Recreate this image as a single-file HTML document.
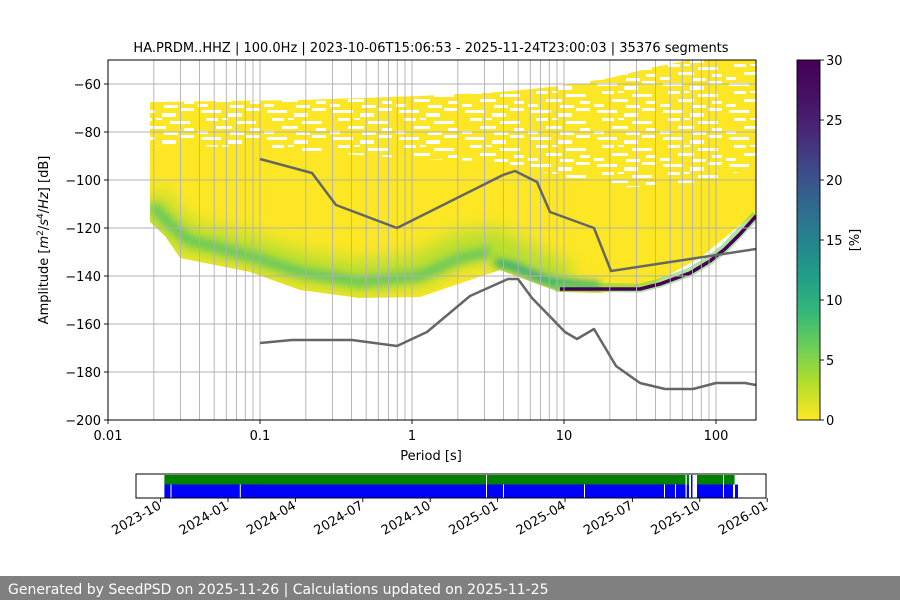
<!DOCTYPE html>
<html><head><meta charset="utf-8"><style>
html,body{margin:0;padding:0;background:#fff;}
body{width:900px;height:600px;overflow:hidden;position:relative;font-family:"Liberation Sans","DejaVu Sans",sans-serif;}
svg text{font-family:"DejaVu Sans","Liberation Sans",sans-serif;}
</style></head><body>
<svg width="900" height="600" viewBox="0 0 900 600" xmlns="http://www.w3.org/2000/svg">
<defs>
<clipPath id="ax"><rect x="108" y="60" width="648" height="360"/></clipPath>
<clipPath id="bodyclip"><path d="M150,145 L260,148 L400,158 L500,162 L560,176 L620,188 L700,182 L740,172 L756,168 L756,215 L740,225 L700,258 L650,285 L600,293 L560,292 L540,285 L500,270 L470,280 L420,297 L360,298 L300,290 L250,272 L180,258 L165,236 L150,222 Z"/></clipPath>
<pattern id="spk" x="0" y="0" width="66" height="27" patternUnits="userSpaceOnUse">
<rect width="66" height="27" fill="#fde725"/>
<rect x="3" y="2" width="20" height="3" fill="#fff"/>
<rect x="30" y="5" width="14" height="4" fill="#fff"/>
<rect x="48" y="0" width="14" height="3" fill="#fff"/>
<rect x="8" y="10" width="12" height="3" fill="#fff"/>
<rect x="38" y="13" width="20" height="3" fill="#fff"/>
<rect x="18" y="18" width="16" height="3" fill="#fff"/>
<rect x="52" y="20" width="10" height="3" fill="#fff"/>
<rect x="0" y="23" width="10" height="3" fill="#fff"/>
<rect x="32" y="24" width="14" height="3" fill="#fff"/>
<rect x="24" y="10" width="6" height="2" fill="#fff"/>
</pattern>
<linearGradient id="cb" x1="0" y1="1" x2="0" y2="0">
<stop offset="0" stop-color="#fde725"/><stop offset="0.1" stop-color="#b5de2b"/><stop offset="0.2" stop-color="#6ece58"/><stop offset="0.3" stop-color="#35b779"/><stop offset="0.4" stop-color="#1f9e89"/><stop offset="0.5" stop-color="#26828e"/><stop offset="0.6" stop-color="#31688e"/><stop offset="0.7" stop-color="#3e4989"/><stop offset="0.8" stop-color="#482878"/><stop offset="0.9" stop-color="#471063"/><stop offset="1" stop-color="#440154"/>
</linearGradient>
<filter id="bl" x="-20%" y="-100%" width="140%" height="300%"><feGaussianBlur stdDeviation="9"/></filter>
<filter id="bl2" x="-10%" y="-50%" width="120%" height="200%"><feGaussianBlur stdDeviation="4"/></filter>
</defs>

<g clip-path="url(#ax)">
<path d="M150,102 L300,100 L420,96 L500,92 L560,86 L610,78 L650,68 L690,60 L756,60 L756,190 L150,190 Z" fill="url(#spk)"/>
<path d="M150,145 L260,148 L400,158 L500,162 L560,176 L620,188 L700,182 L740,172 L756,168 L756,215 L740,225 L700,258 L650,285 L600,293 L560,292 L540,285 L500,270 L470,280 L420,297 L360,298 L300,290 L250,272 L180,258 L165,236 L150,222 Z" fill="#fde725"/>
<g clip-path="url(#bodyclip)">
<polyline points="150,200 165,220 185,238 250,252 300,268 360,278 420,270 460,250 490,245 520,258 545,272 570,280" fill="none" stroke="#a5db36" stroke-width="34" filter="url(#bl)" opacity="0.8"/>
<polyline points="152,205 168,222 188,240 250,256 300,272 360,282 420,276 460,258 490,252" fill="none" stroke="#4ac16d" stroke-width="10" filter="url(#bl2)" opacity="0.75"/>
<polyline points="495,262 515,267 535,276 555,283 600,286" fill="none" stroke="#22a884" stroke-width="8" filter="url(#bl2)"/>
</g>
<polyline points="555,287 640,288 660,283 690,272 710,260 725,248 740,232 756,215" fill="none" stroke="#6ece58" stroke-width="9" opacity="0.55"/>
<polyline points="560,289 640,289 660,284 690,273 710,261 725,249 740,234 756,216" fill="none" stroke="#440154" stroke-width="3.5"/>
</g>

<g stroke="#b0b0b0" stroke-width="0.9">
<line x1="153.8" y1="60" x2="153.8" y2="420"/><line x1="180.5" y1="60" x2="180.5" y2="420"/><line x1="199.5" y1="60" x2="199.5" y2="420"/><line x1="214.2" y1="60" x2="214.2" y2="420"/><line x1="226.3" y1="60" x2="226.3" y2="420"/><line x1="236.5" y1="60" x2="236.5" y2="420"/><line x1="245.3" y1="60" x2="245.3" y2="420"/><line x1="253" y1="60" x2="253" y2="420"/><line x1="260" y1="60" x2="260" y2="420"/>
<line x1="305.8" y1="60" x2="305.8" y2="420"/><line x1="332.5" y1="60" x2="332.5" y2="420"/><line x1="351.5" y1="60" x2="351.5" y2="420"/><line x1="366.2" y1="60" x2="366.2" y2="420"/><line x1="378.3" y1="60" x2="378.3" y2="420"/><line x1="388.5" y1="60" x2="388.5" y2="420"/><line x1="397.3" y1="60" x2="397.3" y2="420"/><line x1="405" y1="60" x2="405" y2="420"/><line x1="412" y1="60" x2="412" y2="420"/>
<line x1="457.8" y1="60" x2="457.8" y2="420"/><line x1="484.5" y1="60" x2="484.5" y2="420"/><line x1="503.5" y1="60" x2="503.5" y2="420"/><line x1="518.2" y1="60" x2="518.2" y2="420"/><line x1="530.3" y1="60" x2="530.3" y2="420"/><line x1="540.5" y1="60" x2="540.5" y2="420"/><line x1="549.3" y1="60" x2="549.3" y2="420"/><line x1="557" y1="60" x2="557" y2="420"/><line x1="564" y1="60" x2="564" y2="420"/>
<line x1="609.8" y1="60" x2="609.8" y2="420"/><line x1="636.5" y1="60" x2="636.5" y2="420"/><line x1="655.5" y1="60" x2="655.5" y2="420"/><line x1="670.2" y1="60" x2="670.2" y2="420"/><line x1="682.3" y1="60" x2="682.3" y2="420"/><line x1="692.5" y1="60" x2="692.5" y2="420"/><line x1="701.3" y1="60" x2="701.3" y2="420"/><line x1="709" y1="60" x2="709" y2="420"/><line x1="716" y1="60" x2="716" y2="420"/>
<line x1="108" y1="84" x2="756" y2="84"/><line x1="108" y1="132" x2="756" y2="132"/><line x1="108" y1="180" x2="756" y2="180"/><line x1="108" y1="228" x2="756" y2="228"/><line x1="108" y1="276" x2="756" y2="276"/><line x1="108" y1="324" x2="756" y2="324"/><line x1="108" y1="372" x2="756" y2="372"/>
</g>

<g clip-path="url(#ax)" fill="none" stroke="#666" stroke-width="2.5" stroke-linejoin="round">
<polyline points="260,159 312,173 336,205 397,228 503,175 515,171 537,182 550,212 594,228 611,271 756,249"/>
<polyline points="260,343 292,340 352,340 397,346 427,332 470,296 508,279 518,279 532,298 565,332 577,339 594,329 616,366 640,383 665,389 693,389 716,383 745,383 756,385"/>
</g>

<rect x="108" y="60" width="648" height="360" fill="none" stroke="#000" stroke-width="1"/>
<g stroke="#000" stroke-width="0.9">
<line x1="104" y1="84" x2="108" y2="84"/><line x1="104" y1="132" x2="108" y2="132"/><line x1="104" y1="180" x2="108" y2="180"/><line x1="104" y1="228" x2="108" y2="228"/><line x1="104" y1="276" x2="108" y2="276"/><line x1="104" y1="324" x2="108" y2="324"/><line x1="104" y1="372" x2="108" y2="372"/><line x1="104" y1="420" x2="108" y2="420"/>
<line x1="108" y1="420" x2="108" y2="424"/><line x1="260" y1="420" x2="260" y2="424"/><line x1="412" y1="420" x2="412" y2="424"/><line x1="564" y1="420" x2="564" y2="424"/><line x1="716" y1="420" x2="716" y2="424"/>
</g>
<g font-size="13" fill="#000" text-anchor="end">
<text x="101" y="89">−60</text><text x="101" y="137">−80</text><text x="101" y="185">−100</text><text x="101" y="233">−120</text><text x="101" y="281">−140</text><text x="101" y="329">−160</text><text x="101" y="377">−180</text><text x="101" y="425">−200</text>
</g>
<g font-size="13" fill="#000" text-anchor="middle">
<text x="108" y="440">0.01</text><text x="260" y="440">0.1</text><text x="412" y="440">1</text><text x="564" y="440">10</text><text x="716" y="440">100</text>
<text x="431" y="460">Period [s]</text>
<text x="431" y="52">HA.PRDM..HHZ | 100.0Hz | 2023-10-06T15:06:53 - 2025-11-24T23:00:03 | 35376 segments</text>
</g>
<text transform="translate(48,240) rotate(-90)" font-size="13" text-anchor="middle">Amplitude [<tspan font-style="italic">m</tspan><tspan font-size="9" dy="-5">2</tspan><tspan dy="5">/</tspan><tspan font-style="italic">s</tspan><tspan font-size="9" dy="-5">4</tspan><tspan dy="5">/</tspan><tspan font-style="italic">Hz</tspan>] [dB]</text>

<rect x="797" y="60" width="23" height="360" fill="url(#cb)"/>
<rect x="797" y="60" width="23" height="360" fill="none" stroke="#000" stroke-width="0.9"/>
<g stroke="#000" stroke-width="0.9">
<line x1="820" y1="60" x2="824" y2="60"/><line x1="820" y1="120" x2="824" y2="120"/><line x1="820" y1="180" x2="824" y2="180"/><line x1="820" y1="240" x2="824" y2="240"/><line x1="820" y1="300" x2="824" y2="300"/><line x1="820" y1="360" x2="824" y2="360"/><line x1="820" y1="420" x2="824" y2="420"/>
</g>
<g font-size="13">
<text x="826" y="65">30</text><text x="826" y="125">25</text><text x="826" y="185">20</text><text x="826" y="245">15</text><text x="826" y="305">10</text><text x="826" y="365">5</text><text x="826" y="425">0</text>
</g>
<text transform="translate(859,240) rotate(-90)" font-size="13" text-anchor="middle">[%]</text>

<rect x="164.4" y="475" width="570.3" height="9.5" fill="#008000"/>
<rect x="164.4" y="484.5" width="573.6" height="13" fill="#0000ff"/>
<g fill="#fff">
<rect x="170.5" y="484.5" width="1" height="13"/>
<rect x="239.8" y="484.5" width="1" height="13"/>
<rect x="486" y="475" width="1" height="22.5"/>
<rect x="503" y="484.5" width="1" height="13"/>
<rect x="584" y="484.5" width="1" height="13"/>
<rect x="664" y="484.5" width="1" height="13"/>
<rect x="675" y="484.5" width="1" height="13"/>
<rect x="685.5" y="475" width="1.2" height="22.5"/>
<rect x="689" y="475" width="8" height="22.5"/>
<rect x="723" y="475" width="1" height="22.5"/>
<rect x="734.7" y="475" width="3" height="9.5"/>
<rect x="733" y="484.5" width="2" height="13"/>
</g>
<rect x="691" y="475" width="1.5" height="22.5" fill="#0000ff"/>
<rect x="136" y="474" width="630" height="24" fill="none" stroke="#000" stroke-width="1"/>
<g stroke="#000" stroke-width="0.9">
<line x1="160.6" y1="498" x2="160.6" y2="502"/><line x1="228" y1="498" x2="228" y2="502"/><line x1="295.4" y1="498" x2="295.4" y2="502"/><line x1="362.8" y1="498" x2="362.8" y2="502"/><line x1="430.2" y1="498" x2="430.2" y2="502"/><line x1="497.6" y1="498" x2="497.6" y2="502"/><line x1="565" y1="498" x2="565" y2="502"/><line x1="632.4" y1="498" x2="632.4" y2="502"/><line x1="699.8" y1="498" x2="699.8" y2="502"/><line x1="767.2" y1="498" x2="767.2" y2="502"/>
</g>
<g font-size="13" text-anchor="end">
<text transform="translate(162,508) rotate(-30)">2023-10</text>
<text transform="translate(229.4,508) rotate(-30)">2024-01</text>
<text transform="translate(296.8,508) rotate(-30)">2024-04</text>
<text transform="translate(364.2,508) rotate(-30)">2024-07</text>
<text transform="translate(431.6,508) rotate(-30)">2024-10</text>
<text transform="translate(499,508) rotate(-30)">2025-01</text>
<text transform="translate(566.4,508) rotate(-30)">2025-04</text>
<text transform="translate(633.8,508) rotate(-30)">2025-07</text>
<text transform="translate(701.2,508) rotate(-30)">2025-10</text>
<text transform="translate(768.6,508) rotate(-30)">2026-01</text>
</g>

<rect x="0" y="576" width="900" height="24" fill="#808080"/>
<text x="8" y="594" font-size="14" fill="#fff">Generated by SeedPSD on 2025-11-26 | Calculations updated on 2025-11-25</text>
</svg>
</body></html>
